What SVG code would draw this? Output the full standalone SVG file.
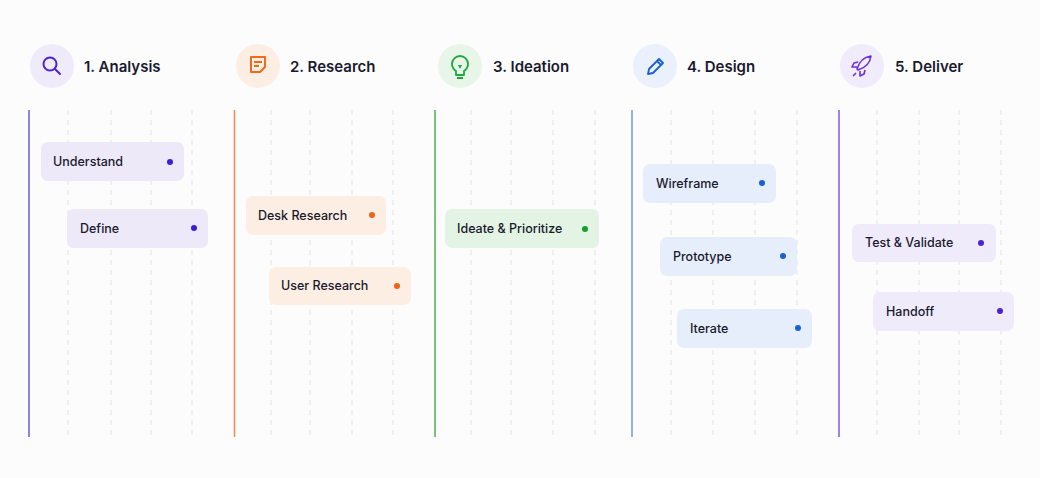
<svg xmlns="http://www.w3.org/2000/svg" width="1040" height="478" viewBox="0 0 1040 478">
<style>
text{font-family:Inter,"Liberation Sans",sans-serif;fill:#1a1a2e}
.t{font-size:15px;font-weight:600}
.l{font-size:12.5px;font-weight:500}
.d{stroke:#e2e2e2;stroke-width:1;stroke-dasharray:5 5}
</style>
<rect width="1040" height="478" fill="#fcfcfc"/>
<g id="grid">
<path class="d" d="M68 110V437M111 110V437M151 110V437M192 110V437M271 110V437M310 110V437M352 110V437M393 110V437M471 110V437M511 110V437M553 110V437M595 110V437M671 110V437M713 110V437M755 110V437M797 110V437M877 110V437M919 110V437M959 110V437M1001 110V437"/>
</g>
<g id="connectors" stroke-width="1.5">
<line x1="29" y1="110" x2="29" y2="437" stroke="#6b5ce7"/>
<line x1="234.5" y1="110" x2="234.5" y2="437" stroke="#f08a4b"/>
<line x1="435" y1="110" x2="435" y2="437" stroke="#4caf50"/>
<line x1="632" y1="110" x2="632" y2="437" stroke="#6b9be8"/>
<line x1="839" y1="110" x2="839" y2="437" stroke="#7b5ce7"/>
</g>
<g id="h1"><circle cx="52" cy="66" r="22" fill="#efebfb"/>
<circle cx="50" cy="64" r="6.5" fill="none" stroke="#4a22d6" stroke-width="2"/><line x1="55" y1="69" x2="60" y2="74" stroke="#4a22d6" stroke-width="2" stroke-linecap="round"/>
<text class="t" x="84" y="72">1. Analysis</text></g>
<g id="h2"><circle cx="258" cy="66" r="22" fill="#fdeee4"/>
<path d="M251 57h14v10l-5 5h-9z" fill="none" stroke="#f06a1e" stroke-width="2" stroke-linejoin="round"/><path d="M254 62h8M254 66h5" stroke="#f06a1e" stroke-width="1.8"/>
<text class="t" x="290" y="72">2. Research</text></g>
<g id="h3"><circle cx="460" cy="66" r="22" fill="#e8f5e9"/>
<path d="M456 71c-3-2-4-5-4-7a8 8 0 0 1 16 0c0 2-1 5-4 7v4h-8z M457 78h6" fill="none" stroke="#1ea83a" stroke-width="1.8" stroke-linejoin="round"/><path d="M458 65l2 4 2-4z" fill="#1ea83a"/>
<text class="t" x="493" y="72">3. Ideation</text></g>
<g id="h4"><circle cx="655" cy="66" r="22" fill="#eaf0fc"/>
<path d="M648 74l1-5 10-10 4 4-10 10z M657 61l4 4" fill="none" stroke="#1a5fd6" stroke-width="1.8" stroke-linejoin="round"/>
<text class="t" x="687" y="72">4. Design</text></g>
<g id="h5"><circle cx="862" cy="66" r="22" fill="#f0ecfb"/>
<path d="M857 69c2-7 7-12 14-13-1 7-6 12-13 14z M858 62l-4 1-2 4 5 0 M865 70l-1 4-4 2 0-5 M856 73l-3 3" fill="none" stroke="#6a2ee0" stroke-width="1.6" stroke-linejoin="round"/>
<text class="t" x="895" y="72">5. Deliver</text></g>
<g id="n1"><rect x="41" y="142" width="143" height="39" rx="7" fill="#ede9f8"/><text class="l" x="53" y="166">Understand</text><circle cx="170" cy="162" r="3" fill="#3b1fd6"/></g>
<g id="n2"><rect x="67" y="209" width="141" height="39" rx="7" fill="#ede9f8"/><text class="l" x="80" y="233">Define</text><circle cx="194" cy="228" r="3" fill="#3b1fd6"/></g>
<g id="n3"><rect x="246" y="196" width="140" height="39" rx="7" fill="#fdeee3"/><text class="l" x="258" y="220">Desk Research</text><circle cx="372" cy="215" r="3" fill="#f0621a"/></g>
<g id="n4"><rect x="269" y="267" width="142" height="38" rx="7" fill="#fdeee3"/><text class="l" x="281" y="290">User Research</text><circle cx="397" cy="286" r="3" fill="#f0621a"/></g>
<g id="n5"><rect x="445" y="209" width="154" height="39" rx="7" fill="#e3f3e4"/><text class="l" x="457" y="233">Ideate &amp; Prioritize</text><circle cx="585" cy="229" r="3" fill="#12a02a"/></g>
<g id="n6"><rect x="643" y="164" width="133" height="39" rx="7" fill="#e6eefb"/><text class="l" x="656" y="188">Wireframe</text><circle cx="762" cy="183" r="3" fill="#1a5fd6"/></g>
<g id="n7"><rect x="660" y="237" width="137" height="39" rx="7" fill="#e6eefb"/><text class="l" x="673" y="261">Prototype</text><circle cx="783" cy="256" r="3" fill="#1a5fd6"/></g>
<g id="n8"><rect x="677" y="309" width="135" height="39" rx="7" fill="#e6eefb"/><text class="l" x="690" y="333">Iterate</text><circle cx="798" cy="328" r="3" fill="#1a5fd6"/></g>
<g id="n9"><rect x="852" y="224" width="144" height="38" rx="7" fill="#efebfa"/><text class="l" x="865" y="247">Test &amp; Validate</text><circle cx="981" cy="243" r="3" fill="#4a22d6"/></g>
<g id="n10"><rect x="873" y="292" width="141" height="39" rx="7" fill="#efebfa"/><text class="l" x="886" y="316">Handoff</text><circle cx="1000" cy="311" r="3" fill="#4a22d6"/></g>
</svg>
